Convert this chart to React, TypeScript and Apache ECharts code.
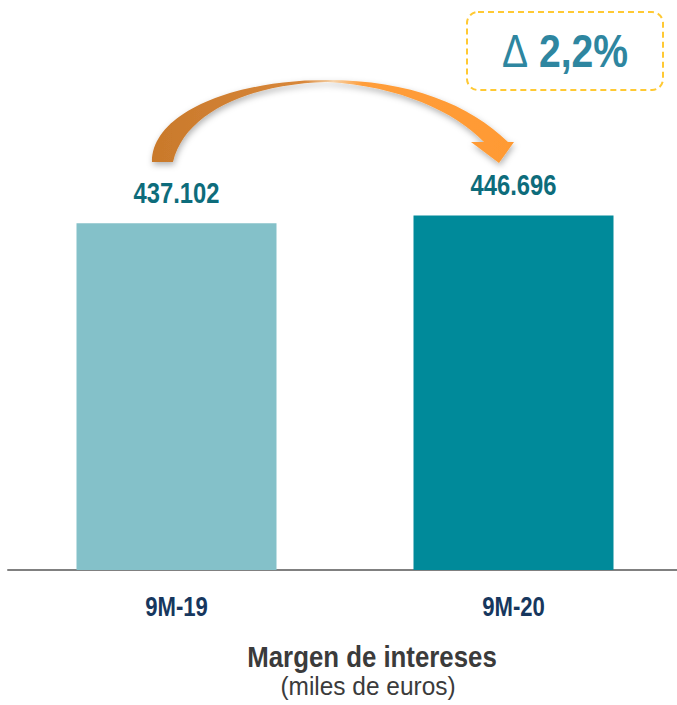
import React, { useEffect, useRef } from "react";
import * as echarts from "echarts";

const categories = ["9M-19", "9M-20"];
const values = [437102, 446696];
const barColors = ["#84c1c9", "#008a9a"];
const titleText = "Margen de intereses";
const subtitleText = "(miles de euros)";

const FONT = "'Liberation Sans', Arial, sans-serif";
const NARROW_SCALE = 0.82;

const fmt = (v: number) => v.toLocaleString("de-DE");

const arrowD =
  "M 152 162 C 152 112 235 80 327 80 C 410 80 470 105 508 142 L 514 142 L 499 163 L 471 142 L 484 142 C 455 112 400 86 327 82 C 250 84 185 112 173 162 Z";

echarts.graphic.registerShape("curvedArrow", echarts.graphic.extendPath(arrowD, {}) as any);

export default function App() {
  const ref = useRef<HTMLDivElement>(null);
  useEffect(() => {
    if (!ref.current) return;
    const chart = echarts.init(ref.current, null, { renderer: "svg" });
    const delta = ((values[1] / values[0] - 1) * 100).toFixed(1).replace(".", ",");
    chart.setOption({
      animation: false,
      grid: { left: 8, right: 0, top: 94, bottom: 135 },
      xAxis: {
        type: "category",
        data: categories,
        axisLine: { show: true, lineStyle: { color: "#808080", width: 2 } },
        axisTick: { show: false },
        axisLabel: { show: false },
      },
      yAxis: {
        type: "value",
        min: 0,
        max: 600000,
        show: false,
        splitLine: { show: false },
      },
      series: [
        {
          type: "bar",
          barWidth: 200,
          data: values.map((v, i) => ({ value: v, itemStyle: { color: barColors[i] } })),
          label: { show: false },
        },
      ],
    });

    const baseY = chart.convertToPixel({ yAxisIndex: 0 }, 0) as number;
    const labelEls: any[] = [];
    categories.forEach((c, i) => {
      const top = chart.convertToPixel({ seriesIndex: 0 }, [i, values[i]]) as number[];
      labelEls.push({
        type: "text",
        z: 11,
        x: top[0],
        y: top[1] - 30,
        scaleX: NARROW_SCALE,
        style: {
          text: fmt(values[i]),
          align: "center",
          verticalAlign: "middle",
          fontSize: 29,
          fontWeight: "bold",
          fontFamily: FONT,
          fill: "#0d6c7b",
        },
      });
      labelEls.push({
        type: "text",
        z: 11,
        x: top[0],
        y: baseY + 36.5,
        scaleX: NARROW_SCALE,
        style: {
          text: c,
          align: "center",
          verticalAlign: "middle",
          fontSize: 27,
          fontWeight: "bold",
          fontFamily: FONT,
          fill: "#17375e",
        },
      });
    });

    chart.setOption({
      graphic: [
        {
          type: "curvedArrow",
          x: 0,
          y: 0,
          z: 10,
          style: {
            fill: new echarts.graphic.LinearGradient(0, 0, 1, 0, [
              { offset: 0, color: "#c9792b" },
              { offset: 0.42, color: "#d8873a" },
              { offset: 0.5, color: "#f6d3aa" },
              { offset: 0.58, color: "#ff9d3a" },
              { offset: 1, color: "#ff9a33" },
            ]),
            shadowBlur: 6,
            shadowOffsetX: 1,
            shadowOffsetY: 3,
            shadowColor: "rgba(0,0,0,0.3)",
          },
        },
        {
          type: "rect",
          z: 10,
          shape: { x: 467, y: 12, width: 196, height: 78, r: 11 },
          style: { fill: "none", stroke: "#ffc933", lineWidth: 2, lineDash: [6, 4] },
        },
        {
          type: "text",
          z: 11,
          x: 565,
          y: 51,
          scaleX: 0.85,
          style: {
            text: "{a|Δ}{b| " + delta + "%}",
            align: "center",
            verticalAlign: "middle",
            rich: {
              a: { fontSize: 46, fontFamily: FONT, fill: "#2e86a0", fontWeight: "normal" },
              b: { fontSize: 46, fontFamily: FONT, fill: "#2e86a0", fontWeight: "bold" },
            },
          },
        },
        ...labelEls,
        {
          type: "text",
          z: 11,
          x: 372,
          y: 657,
          scaleX: 0.89,
          style: {
            text: titleText,
            align: "center",
            verticalAlign: "middle",
            fontSize: 29,
            lineHeight: 27,
            fontWeight: "bold",
            fontFamily: FONT,
            fill: "#3b3b3b",
          },
        },
        {
          type: "text",
          z: 11,
          x: 368,
          y: 686,
          scaleX: 0.94,
          style: {
            text: subtitleText,
            align: "center",
            verticalAlign: "middle",
            fontSize: 26,
            lineHeight: 24,
            fontFamily: FONT,
            fill: "#3b3b3b",
          },
        },
      ],
    });
    return () => chart.dispose();
  }, []);
  return (
    <div
      style={{ position: "absolute", left: 0, top: 0, width: 677, height: 705, overflow: "hidden", background: "#fff" }}
    >
      <div ref={ref} style={{ width: 682, height: 705 }} />
    </div>
  );
}
